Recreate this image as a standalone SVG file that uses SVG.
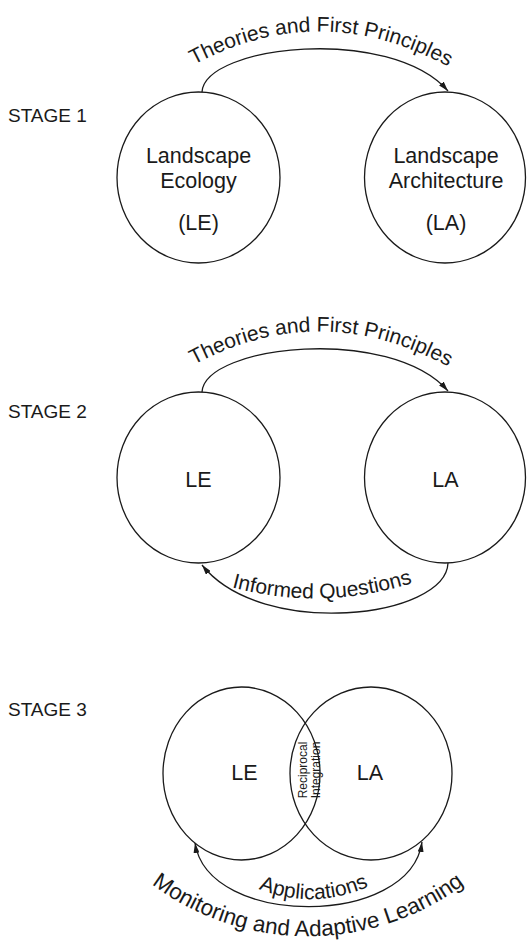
<svg xmlns="http://www.w3.org/2000/svg" width="527" height="940" viewBox="0 0 527 940">
<style>
  .node { fill: none; stroke: #1a1a1a; stroke-width: 1.3; }
  .conn { fill: none; stroke: #1a1a1a; stroke-width: 1.3; }
  text { font-family: "Liberation Sans", Arial, sans-serif; fill: #1a1a1a; }
  .lbl { font-size: 21.5px; text-anchor: middle; }
  .stage { font-size: 19px; }
  .arc { font-size: 21px; text-anchor: middle; }
  .arcL { font-size: 22.5px; text-anchor: middle; }
  .small { font-size: 12px; text-anchor: middle; }
</style>
<defs>
  <marker id="ah" viewBox="0 0 10 6" refX="10" refY="3" markerWidth="10" markerHeight="6" markerUnits="userSpaceOnUse" orient="auto-start-reverse">
    <path d="M0,0 L10,3 L0,6 Z" fill="#1a1a1a"/>
  </marker>
  <path id="tp1" d="M 188 68 Q 320 -6 454 70"/>
  <path id="tp2" d="M 188 368 Q 320 294 454 370"/>
  <path id="tp2b" d="M 220 584 Q 322 615 424 579"/>
  <path id="tp3a" d="M 233 876 Q 312 924 394 873"/>
  <path id="tp3b" d="M 140 875 A 261 261 0 0 0 476 875"/>
</defs>

<text class="stage" x="8" y="122">STAGE 1</text>
<text class="stage" x="8" y="418">STAGE 2</text>
<text class="stage" x="8" y="716">STAGE 3</text>

<g id="connectors">
  <path class="conn" d="M 202 92 C 205 45, 390 25, 448 91" marker-end="url(#ah)"/>
  <path class="conn" d="M 202 392 C 205 345, 390 325, 448 391" marker-end="url(#ah)"/>
  <path class="conn" d="M 448 563 C 446 618, 262 640, 202 565" marker-end="url(#ah)"/>
  <path class="conn" d="M 195 843 C 208 928, 410 928, 422 842" marker-start="url(#ah)" marker-end="url(#ah)"/>
  <text class="arc"><textPath href="#tp1" startOffset="50%">Theories and First Principles</textPath></text>
  <text class="arc"><textPath href="#tp2" startOffset="50%">Theories and First Principles</textPath></text>
  <text class="arc"><textPath href="#tp2b" startOffset="50%">Informed Questions</textPath></text>
  <text class="arc"><textPath href="#tp3a" startOffset="50%">Applications</textPath></text>
  <text class="arcL"><textPath href="#tp3b" startOffset="50%">Monitoring and Adaptive Learning</textPath></text>
</g>

<g id="s1-le">
  <ellipse class="node" cx="198.5" cy="177.5" rx="81.5" ry="85.5"/>
  <text class="lbl" x="198.5" y="163">Landscape</text>
  <text class="lbl" x="198.5" y="188">Ecology</text>
  <text class="lbl" x="198.5" y="230">(LE)</text>
</g>
<g id="s1-la">
  <ellipse class="node" cx="445" cy="177.5" rx="80.5" ry="85.5"/>
  <text class="lbl" x="446" y="163">Landscape</text>
  <text class="lbl" x="446" y="188">Architecture</text>
  <text class="lbl" x="446" y="230">(LA)</text>
</g>

<g id="s2-le">
  <ellipse class="node" cx="198.5" cy="477.5" rx="81.5" ry="85.5"/>
  <text class="lbl" x="198.5" y="487">LE</text>
</g>
<g id="s2-la">
  <ellipse class="node" cx="445" cy="477.5" rx="80.5" ry="85.5"/>
  <text class="lbl" x="445.5" y="487">LA</text>
</g>

<g id="s3-le">
  <ellipse class="node" cx="241.5" cy="773.5" rx="78.5" ry="86.5"/>
  <text class="lbl" x="244.5" y="780">LE</text>
</g>
<g id="s3-la">
  <ellipse class="node" cx="371" cy="773.5" rx="81" ry="86.5"/>
  <text class="lbl" x="370" y="780">LA</text>
</g>
<g id="s3-overlap">
  <text class="small" transform="translate(306.5,770) rotate(-90)">Reciprocal</text>
  <text class="small" transform="translate(320,770) rotate(-90)">Integration</text>
</g>
</svg>
